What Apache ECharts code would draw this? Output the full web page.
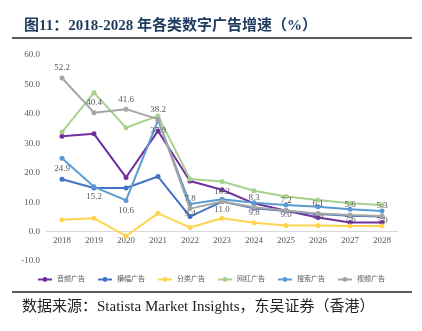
<!DOCTYPE html>
<html><head><meta charset="utf-8">
<script src="https://cdn.jsdelivr.net/npm/echarts@6/dist/echarts.min.js"></script>
<style>html,body{margin:0;padding:0;background:#fff}#c{width:422px;height:331px}</style>
</head><body><div id="c"></div>
<script>
const years = ['2018','2019','2020','2021','2022','2023','2024','2025','2026','2027','2028'];
const audio   = [32.4, 33.2, 18.4, 34.2, 17.2, 14.2, 9.6, 7.1, 4.8, 3.1, 3.1];
const banner  = [17.8, 14.8, 14.8, 18.7, 5.1, 10.2, 7.9, 7.0, 6.0, 5.4, 5.1];
const classified = [4.0, 4.5, -1.5, 6.2, 1.4, 4.5, 3.0, 2.1, 2.1, 1.9, 1.9];
const influencer = [33.8, 47.2, 35.3, 39.3, 17.9, 17.0, 13.9, 11.9, 10.7, 9.6, 9.0];
const search  = [24.9, 15.2, 10.6, 37.8, 9.4, 11.0, 9.8, 9.0, 8.4, 7.6, 7.0];
const video   = [52.2, 40.4, 41.6, 38.2, 7.8, 10.2, 8.3, 7.2, 6.1, 5.6, 5.3];
const names = ['音频广告','横幅广告','分类广告','网红广告','搜索广告','视频广告'];
const colors = ['#7030a0','#4472c4','#ffd54f','#a9d18e','#5b9bd5','#a5a5a5'];
const yTicks = {min:-10, max:60, interval:10};

const serif = '"Liberation Serif","DejaVu Serif","Noto Sans CJK SC",serif';
const datasets = [audio, banner, classified, influencer, search, video];
const series = datasets.map((d,i)=>{
  const s = {
    name: names[i], type:'line', data:d, symbol:'circle', symbolSize:5,
    lineStyle:{width:2, color:colors[i]}, itemStyle:{color:colors[i]},
    emphasis:{disabled:true}, z: 2+i
  };
  if (i===5) s.label = {show:true, position:'top', distance:3, fontFamily:serif, fontSize:9, color:'#595959', formatter:p=>p.value.toFixed(1)};
  if (i===4) s.label = {show:true, position:'bottom', distance:3, fontFamily:serif, fontSize:9, color:'#595959', formatter:p=>p.value.toFixed(1)};
  return s;
});

const gridTop = 55, gridBottom = 70, H = 331;
const plotH = H - gridTop - gridBottom;
const zeroOffset = -plotH * (0 - yTicks.min) / (yTicks.max - yTicks.min);

const chart = echarts.init(document.getElementById('c'), null, {renderer:'canvas'});
chart.setOption({
  animation:false,
  backgroundColor:'#fff',
  title:{text:'图11：2018-2028 年各类数字广告增速（%）', left:19, top:14,
    textStyle:{fontFamily:serif, fontSize:15, fontWeight:'bold', color:'#1f3a5f'}},
  graphic:[
    {type:'line', shape:{x1:12,y1:38,x2:412,y2:38}, style:{stroke:'#222', lineWidth:1.5}},
    {type:'line', shape:{x1:12,y1:292,x2:412,y2:292}, style:{stroke:'#222', lineWidth:1.5}},
    {type:'text', left:22, top:300, style:{text:'数据来源：Statista Market Insights，东吴证券（香港）', fontFamily:serif, fontSize:15, fill:'#222'}}
  ],
  legend:{data:names, left:'center', top:271, itemWidth:14, itemHeight:6, itemGap:12,
    textStyle:{fontFamily:serif, fontSize:7, color:'#595959'}},
  grid:{left:46, right:24, top:gridTop, bottom:gridBottom},
  xAxis:{type:'category', data:years, boundaryGap:true, offset:zeroOffset,
    axisLine:{onZero:false, lineStyle:{color:'#d9d9d9'}}, axisTick:{show:false},
    axisLabel:{fontFamily:serif, fontSize:9, color:'#595959', margin:5}},
  yAxis:{type:'value', min:yTicks.min, max:yTicks.max, interval:yTicks.interval,
    axisLine:{show:false}, axisTick:{show:false}, splitLine:{show:false},
    axisLabel:{fontFamily:serif, fontSize:9, color:'#595959', margin:6, formatter:v=>v.toFixed(1)}},
  series: series
});
</script></body></html>
